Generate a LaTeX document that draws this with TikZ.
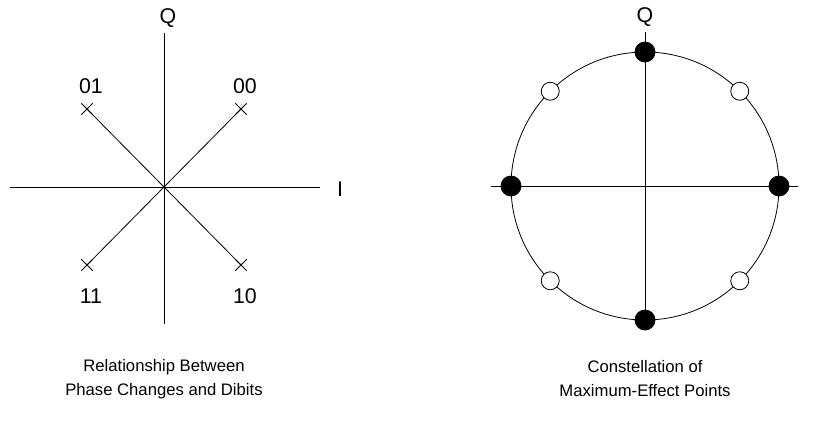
\documentclass[tikz,border=0pt]{standalone}
\usepackage{fontspec}
\setmainfont{Liberation Sans}
\usetikzlibrary{positioning,shapes.misc,calc}

\begin{document}
\begin{tikzpicture}[
  x=0.75pt,y=-0.75pt,
  axis/.style={line width=0.6pt},
  lbl/.style={font=\fontsize{16}{18}\selectfont,inner sep=1pt},
  crossmark/.style={cross out,draw,line width=0.6pt,minimum size=8pt,inner sep=0pt},
  fulldot/.style={circle,draw,line width=0.6pt,fill=black,minimum size=15pt,inner sep=0pt},
  opendot/.style={circle,draw,line width=0.6pt,fill=white,minimum size=13.5pt,inner sep=0pt},
  caption/.style={align=center,font=\fontsize{12.5}{18}\selectfont}
]
\useasboundingbox (0,0) rectangle (815,437);
% left: phase changes and dibits
\coordinate (o1) at (164,187);
\coordinate (l1) at (10,187);
\coordinate (r1) at (320,187);
\coordinate (t1) at (164,33);
\coordinate (b1) at (164,324);
\draw[axis] (l1) -- (r1);
\draw[axis] (t1) -- (b1);
\node[lbl] (q1) at (168,18) {Q};
\node[lbl] (i1) at (340,189) {I};
\node[crossmark] (c00) at (241,109) {};
\node[crossmark] (c01) at (87,109) {};
\node[crossmark] (c11) at (87,265) {};
\node[crossmark] (c10) at (241,265) {};
\foreach \c in {c00,c01,c11,c10}
  \draw[axis] (o1) -- (\c.center);
\node[lbl,above=6pt of c00,xshift=3pt] (d00) {00};
\node[lbl,above=6pt of c01,xshift=3pt] (d01) {01};
\node[lbl,below=12pt of c11,xshift=3pt] (d11) {11};
\node[lbl,below=12pt of c10,xshift=3pt] (d10) {10};
\node[caption] (cap1) at (164,379) {Relationship Between\\Phase Changes and Dibits};
% right: constellation
\coordinate (o2) at (645,186);
\coordinate (l2) at (491,186);
\coordinate (r2) at (798,186);
\coordinate (t2) at (645,32);
\coordinate (b2) at (645,326);
\draw[axis] (o2) circle[radius=134];
\draw[axis] (l2) -- (r2);
\draw[axis] (t2) -- (b2);
\node[lbl] (q2) at (645,17) {Q};
\foreach \a in {0,90,180,270}
  \node[fulldot] (f\a) at ($(o2)+(\a:134)$) {};
\foreach \a in {45,135,225,315}
  \node[opendot] (e\a) at ($(o2)+(\a:134)$) {};
\node[caption] (cap2) at (645,379) {Constellation of\\Maximum-Effect Points};
\end{tikzpicture}
\end{document}
